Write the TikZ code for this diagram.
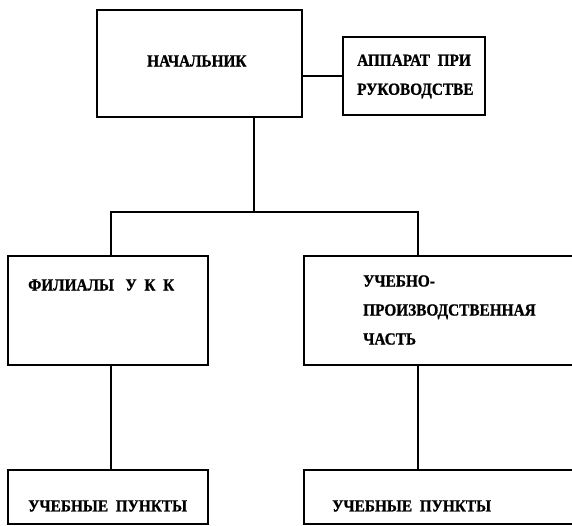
\documentclass[tikz,border=0pt]{standalone}
\usepackage{fontspec}
\setmainfont{Liberation Serif}[BoldFeatures={FakeStretch=0.9,FakeBold=1}]
\begin{document}
\begin{tikzpicture}[x=1pt,y=-1pt,
  box/.style={draw=black, line width=2.2pt, rectangle, inner sep=0pt},
  lbl/.style={font=\fontsize{17}{29}\selectfont\bfseries, inner sep=0pt, align=left, anchor=west},
  conn/.style={draw=black, line width=2.2pt}]
\useasboundingbox (0,0) rectangle (572,526);
\clip (0,0) rectangle (572,526);
\fill[white] (0,0) rectangle (572,526);
% boxes
\node[box, minimum width=205pt, minimum height=107pt] (boss) at (199.5,63.5) {};
\node[box, minimum width=142pt, minimum height=78pt] (app) at (414,76) {};
\node[box, minimum width=200pt, minimum height=109pt] (fil) at (108,310.5) {};
\node[box, minimum width=280pt, minimum height=109pt] (upc) at (444,310.5) {};
\node[box, minimum width=200pt, minimum height=54pt] (pl) at (108,497) {};
\node[box, minimum width=280pt, minimum height=54pt] (pr) at (444,497) {};
% texts
\node[lbl] (tboss) at (147,61) {НАЧАЛЬНИК};
\node[lbl] (tapp) at (357,76.5) {АППАРАТ~~ПРИ\\РУКОВОДСТВЕ};
\node[lbl] (tfil) at (28,285) {ФИЛИАЛЫ~~~У~~К~~К};
\node[lbl] (tupc) at (363,310) {УЧЕБНО-\\ПРОИЗВОДСТВЕННАЯ\\ЧАСТЬ};
\node[lbl] (tpl) at (28,506) {УЧЕБНЫЕ~~ПУНКТЫ};
\node[lbl] (tpr) at (332,506) {УЧЕБНЫЕ~~ПУНКТЫ};
% junctions
\coordinate (jm) at (254,212);
\coordinate (jl) at (111,212);
\coordinate (jr) at (418,212);
% connectors
\draw[conn] (boss.east |- app.west) -- (app.west);
\draw[conn] (boss.south -| jm) -- (jm);
\draw[conn, line cap=rect] (jl) -- (jr);
\draw[conn] (jl) -- (jl |- fil.north);
\draw[conn] (jr) -- (jr |- upc.north);
\draw[conn] (fil.south -| jl) -- (jl |- pl.north);
\draw[conn] (upc.south -| jr) -- (jr |- pr.north);
\end{tikzpicture}
\end{document}
